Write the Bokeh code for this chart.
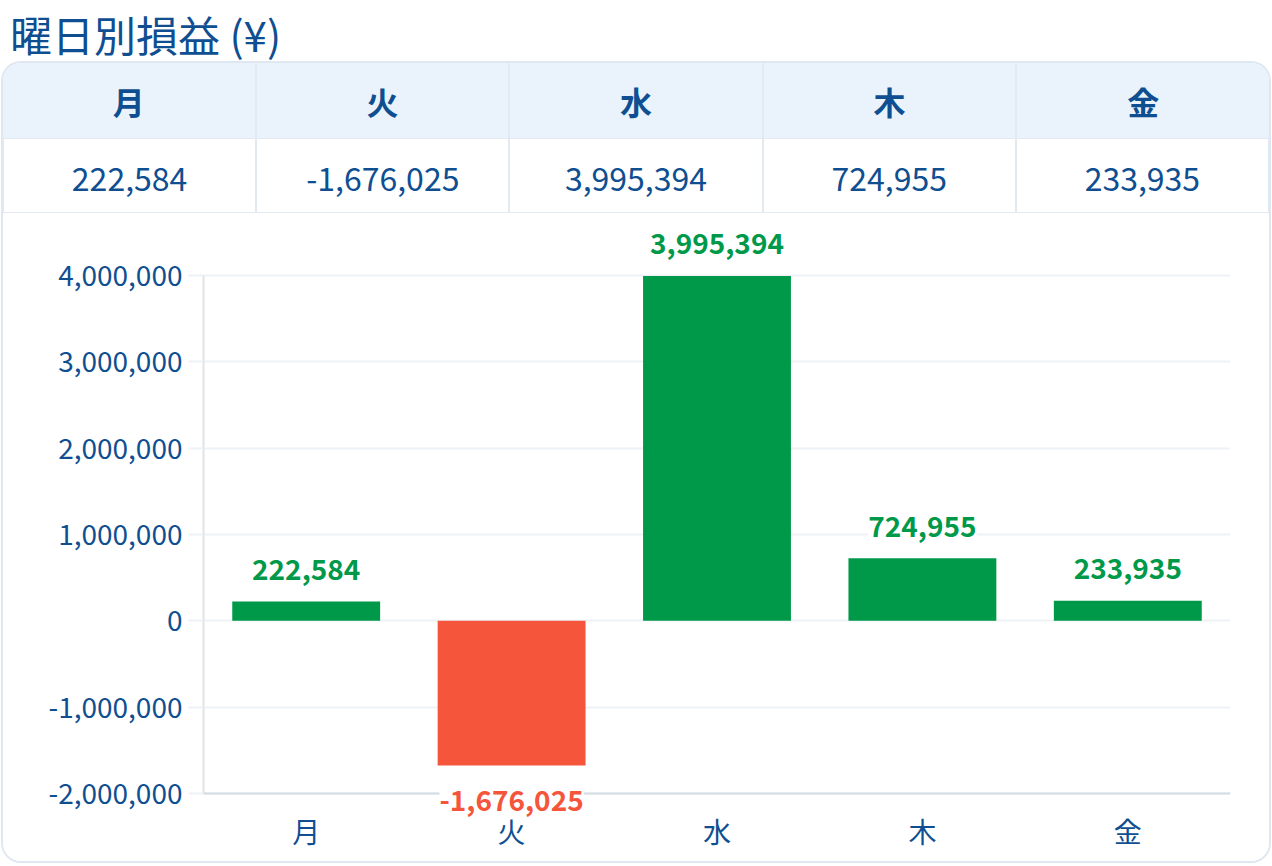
from bokeh.plotting import figure
from bokeh.models import (ColumnDataSource, Range1d, FactorRange, LabelSet, Div, Span,
                          NumeralTickFormatter, FixedTicker)
from bokeh.layouts import column
from bokeh.core.properties import value
from bokeh.embed import file_html
from bokeh.resources import INLINE

# ---- data ----
days = ["月", "火", "水", "木", "金"]
pnl = [222584, -1676025, 3995394, 724955, 233935]
y_ticks = [-2000000, -1000000, 0, 1000000, 2000000, 3000000, 4000000]
title_text = "曜日別損益 (¥)"

# ---- style constants ----
FONT = "Noto Sans CJK JP"
FONT_CSS = "'Noto Sans CJK JP', sans-serif"
BLUE = "#0f4f91"
GREEN = "#00994a"
RED = "#f5553b"

CARD_W = 1266
TITLE_H = 63
TABLE_H = 150
FIG_H = 648
FRAME_PX = 518          # pixel height between the lowest and highest tick
EXTRA_BOTTOM_PX = 24    # room below the lowest tick for the negative bar label
EXTRA_TOP_PX = 50       # room above the highest tick for the bar label

# ---- title ----
title_div = Div(
    text=(f'<div style="font-family:{FONT_CSS};font-size:42px;line-height:1;'
          f'color:{BLUE};padding:13px 0 0 10px;white-space:nowrap;">{title_text}</div>'),
    width=1272, height=TITLE_H, margin=0)

# ---- table ----
head_cells = "".join(
    f'<div style="flex:1 1 0;display:flex;align-items:center;justify-content:center;'
    f'box-sizing:border-box;padding-top:2px;{"border-left:2px solid #e0eaf5;" if i else ""}">{d}</div>'
    for i, d in enumerate(days))
val_cells = "".join(
    f'<div style="flex:1 1 0;display:flex;align-items:center;justify-content:center;'
    f'box-sizing:border-box;padding-top:5px;border:1.5px solid #e2e9f1;background:white;">{v:,}</div>'
    for v in pnl)
table_html = (
    f'<div style="font-family:{FONT_CSS};color:{BLUE};width:{CARD_W}px;">'
    f'<div style="display:flex;height:75px;background:#eaf3fb;font-weight:bold;font-size:32px;">{head_cells}</div>'
    f'<div style="display:flex;height:75px;font-size:32px;">{val_cells}</div>'
    f'</div>')
table_div = Div(text=table_html, width=CARD_W, height=TABLE_H, margin=0)

# ---- chart ----
span = y_ticks[-1] - y_ticks[0]
y_start = y_ticks[0] - EXTRA_BOTTOM_PX * span / FRAME_PX
y_end = y_ticks[-1] + EXTRA_TOP_PX * span / FRAME_PX

p = figure(width=CARD_W, height=FIG_H, x_range=FactorRange(*days),
           y_range=Range1d(y_start, y_end),
           output_backend="svg", toolbar_location=None,
           min_border_left=200, min_border_right=39,
           min_border_top=62 - EXTRA_TOP_PX, min_border_bottom=44)
p.outline_line_color = None
p.background_fill_color = "white"
p.border_fill_color = "white"

# baseline of the category axis at the lowest tick
p.add_layout(Span(location=y_ticks[0], dimension="width", line_color="#d3dbe3", line_width=2))

colors = [GREEN if v >= 0 else RED for v in pnl]
src = ColumnDataSource(dict(day=days, pnl=pnl, color=colors,
                            label=[f"{v:,}" for v in pnl],
                            yoff=[32 if v >= 0 else -35 for v in pnl]))
p.vbar(x="day", top="pnl", bottom=0, width=0.72, source=src,
       fill_color="color", line_color=None)
p.add_layout(LabelSet(x="day", y="pnl", text="label", y_offset="yoff", source=src,
                      text_align="center", text_baseline="middle",
                      text_font=value(FONT), text_font_size="28px", text_font_style="bold",
                      text_color="color", background_fill_color="white"))

# ---- axes ----
p.yaxis.ticker = FixedTicker(ticks=y_ticks)
p.yaxis.bounds = (y_ticks[0], y_ticks[-1])
p.yaxis.formatter = NumeralTickFormatter(format="0,0")
p.yaxis.major_label_text_font = FONT
p.yaxis.major_label_text_font_size = "28px"
p.yaxis.major_label_text_color = BLUE
p.yaxis.major_tick_in = 0
p.yaxis.major_tick_out = 15
p.yaxis.major_tick_line_color = "#eef2f6"
p.yaxis.major_tick_line_width = 2
p.yaxis.minor_tick_line_color = None
p.yaxis.axis_line_color = "#dfe3e8"
p.yaxis.axis_line_width = 2
p.yaxis.major_label_standoff = 6

p.xaxis.major_label_text_font = FONT
p.xaxis.major_label_text_font_size = "28px"
p.xaxis.major_label_text_color = BLUE
p.xaxis.major_tick_line_color = None
p.xaxis.major_tick_in = 0
p.xaxis.major_tick_out = 0
p.xaxis.minor_tick_line_color = None
p.xaxis.axis_line_color = None
p.xaxis.major_label_standoff = -7

p.xgrid.grid_line_color = None
p.ygrid.grid_line_color = "#eef2f6"
p.ygrid.grid_line_width = 2

card = column(table_div, p, margin=(0, 0, 0, 3), spacing=0,
              styles={"box-shadow": "0 0 0 2px #dfe7f0", "border-radius": "18px",
                      "overflow": "hidden"})
layout = column(title_div, card, spacing=0, margin=0)

open("out.html", "w").write(file_html(layout, INLINE))
